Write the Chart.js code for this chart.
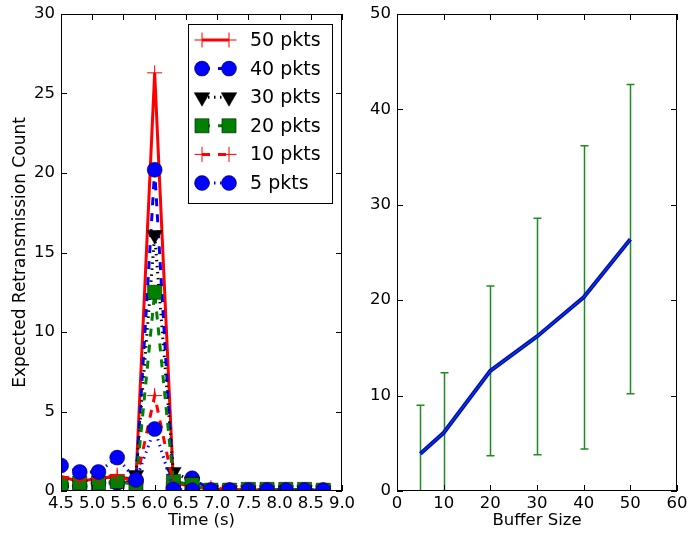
<!DOCTYPE html>
<html>
<head>
<meta charset="utf-8">
<script src="https://cdn.jsdelivr.net/npm/chart.js@4.4.1/dist/chart.umd.min.js"></script>
<style>
  html, body { margin: 0; padding: 0; background: #fff; }
  #wrap { position: relative; width: 688px; height: 533px; overflow: hidden; }
  canvas { position: absolute; top: 0; }
  #left { left: 0; z-index: 2; }
  #right { left: 355px; z-index: 1; }
</style>
</head>
<body>
<div id="wrap">
  <canvas id="left" width="365" height="533"></canvas>
  <canvas id="right" width="333" height="533"></canvas>
</div>
<script>
// left panel: retransmissions over time, one series per buffer size
const times = [4.5, 4.8, 5.1, 5.4, 5.7, 6.0, 6.3, 6.6, 6.9, 7.2, 7.5, 7.8, 8.1, 8.4, 8.7];
const pkts50 = [0.9, 0.6, 0.8, 0.9, 0.7, 26.3, 0.5, 0.3, 0.1, 0.1, 0.05, 0.05, 0.05, 0.05, 0.05];
const pkts40 = [0.3, 0.3, 0.5, 0.5, 0.6, 20.2, 0.2, 0.8, 0.05, 0.05, 0.05, 0.05, 0.05, 0.05, 0.05];
const pkts30 = [0.5, 0.4, 0.5, 0.6, 1.0, 16.1, 1.2, 0.6, 0.05, 0.05, 0.05, 0.05, 0.05, 0.05, 0.05];
const pkts20 = [0.4, 0.5, 0.5, 0.6, 0.4, 12.5, 0.6, 0.4, 0.05, 0.05, 0.1, 0.1, 0.1, 0.1, 0.05];
const pkts10 = [0.9, 0.7, 0.8, 1.0, 0.5, 6.0, 0.4, 0.2, 0.2, 0.1, 0.05, 0.05, 0.05, 0.05, 0.05];
const pkts5 = [1.6, 1.2, 1.2, 2.1, 0.7, 3.9, 0.1, 0.05, 0.05, 0.05, 0.05, 0.05, 0.05, 0.05, 0.05];

// right panel: mean count per buffer size with error bars
const bufferSizes = [5, 10, 20, 30, 40, 50];
const meanCount = [3.9, 6.1, 12.6, 16.2, 20.3, 26.4];
const errCount = [5.1, 6.3, 8.9, 12.4, 15.9, 16.2];

const FONT = "'DejaVu Sans', sans-serif";

const pts = ys => times.map((t, i) => ({ x: t, y: ys[i] }));

// black frame + inward ticks on all four sides (matplotlib classic look)
const frameTicks = {
  id: "frameTicks",
  afterDraw(chart) {
    const { ctx, chartArea: a, scales: { x, y } } = chart;
    ctx.save();
    ctx.strokeStyle = "#000";
    ctx.lineWidth = 1;
    ctx.strokeRect(a.left + 0.5, a.top + 0.5, a.right - a.left - 1, a.bottom - a.top - 1);
    ctx.beginPath();
    x.ticks.forEach(t => {
      const px = Math.round(x.getPixelForValue(t.value)) + 0.5;
      ctx.moveTo(px, a.bottom); ctx.lineTo(px, a.bottom - 6);
      ctx.moveTo(px, a.top); ctx.lineTo(px, a.top + 6);
    });
    y.ticks.forEach(t => {
      const py = Math.round(y.getPixelForValue(t.value)) + 0.5;
      ctx.moveTo(a.left, py); ctx.lineTo(a.left + 6, py);
      ctx.moveTo(a.right, py); ctx.lineTo(a.right - 6, py);
    });
    ctx.stroke();
    ctx.restore();
  }
};

// legend with a marker at each end of the line sample
const lineLegend = {
  id: "lineLegend",
  afterDraw(chart) {
    const { ctx, chartArea: a } = chart;
    const boxR = a.right - 10, boxL = boxR - 144, boxT = a.top + 10, boxB = boxT + 179;
    ctx.save();
    ctx.fillStyle = "#fff";
    ctx.fillRect(boxL, boxT, boxR - boxL, boxB - boxT);
    ctx.strokeStyle = "#000";
    ctx.lineWidth = 1;
    ctx.strokeRect(boxL + 0.5, boxT + 0.5, boxR - boxL, boxB - boxT);
    const sets = chart.data.datasets;
    sets.forEach((ds, i) => {
      const cy = boxT + 16 + i * 28.6;
      const x1 = boxL + 14, x2 = boxL + 41;
      ctx.strokeStyle = ds.borderColor;
      ctx.lineWidth = ds.borderWidth;
      ctx.setLineDash(ds.borderDash || []);
      ctx.beginPath();
      ctx.moveTo(x1, cy); ctx.lineTo(x2, cy);
      ctx.stroke();
      ctx.setLineDash([]);
      [x1, x2].forEach(px => {
        ctx.fillStyle = ds.pointBackgroundColor;
        ctx.strokeStyle = ds.pointBorderColor;
        ctx.lineWidth = ds.pointBorderWidth;
        Chart.helpers.drawPoint(ctx, {
          pointStyle: ds.pointStyle,
          radius: ds.pointRadius,
          rotation: ds.pointRotation || 0,
          borderWidth: ds.pointBorderWidth
        }, px, cy);
      });
      ctx.fillStyle = "#000";
      ctx.font = "19px " + FONT;
      ctx.textBaseline = "middle";
      ctx.fillText(ds.label, boxL + 62, cy + 1);
    });
    ctx.restore();
  }
};

const errorBars = {
  id: "errorBars",
  beforeDatasetsDraw(chart) {
    const { ctx, chartArea: a, scales: { x, y } } = chart;
    ctx.save();
    ctx.beginPath();
    ctx.rect(a.left, a.top, a.right - a.left, a.bottom - a.top);
    ctx.clip();
    ctx.strokeStyle = "#1e8c1e";
    ctx.lineWidth = 1.5;
    ctx.beginPath();
    bufferSizes.forEach((b, i) => {
      const px = Math.round(x.getPixelForValue(b)) + 0.5;
      const lo = y.getPixelForValue(meanCount[i] - errCount[i]);
      const hi = y.getPixelForValue(meanCount[i] + errCount[i]);
      ctx.moveTo(px, lo); ctx.lineTo(px, hi);
      ctx.moveTo(px - 4, lo); ctx.lineTo(px + 4, lo);
      ctx.moveTo(px - 4, hi); ctx.lineTo(px + 4, hi);
    });
    ctx.stroke();
    ctx.restore();
  }
};

function fixWidth(w) {
  return s => { s.width = w; s.paddingTop = 0; s.paddingBottom = 0; };
}
function fixHeight(h) {
  return s => { s.height = h; s.paddingLeft = 0; s.paddingRight = 0; };
}

const tickFont = { family: FONT, size: 16.5 };

function dset(label, ys, color, dash, style, radius, fill, edge, edgeW, order, rot) {
  return {
    label, data: pts(ys),
    borderColor: color, borderWidth: 3, borderDash: dash,
    pointStyle: style, pointRadius: radius, pointHoverRadius: radius,
    pointBackgroundColor: fill, pointBorderColor: edge, pointBorderWidth: edgeW,
    pointRotation: rot || 0,
    clip: 0, order
  };
}

new Chart(document.getElementById("left"), {
  type: "line",
  data: {
    datasets: [
      dset("50 pkts", pkts50, "#ff0000", [], "cross", 7.5, "#ff0000", "#ff0000", 1, 5),
      dset("40 pkts", pkts40, "#0000ff", [8, 8], "circle", 7.5, "#0000ff", "#000", 0.5, 4),
      dset("30 pkts", pkts30, "#000000", [1.5, 4.5], "triangle", 9, "#000000", "#000", 0.5, 3, 180),
      dset("20 pkts", pkts20, "#008000", [8, 8], "rect", 10, "#008000", "#000", 0.5, 2),
      dset("10 pkts", pkts10, "#ff0000", [8, 8], "cross", 7.5, "#ff0000", "#ff0000", 1, 1),
      dset("5 pkts", pkts5, "#0000ff", [1.5, 4.5], "circle", 7.5, "#0000ff", "#000", 0.5, 0)
    ]
  },
  options: {
    responsive: false,
    animation: false,
    layout: { padding: { top: 14, right: 23, left: 0, bottom: 0 } },
    plugins: { legend: { display: false }, tooltip: { enabled: false } },
    scales: {
      x: {
        type: "linear", min: 4.5, max: 9.0,
        ticks: { stepSize: 0.5, color: "#000", font: tickFont, padding: 3, maxRotation: 0,
          callback: v => v.toFixed(1) },
        grid: { display: false, drawTicks: false },
        border: { display: false },
        title: { display: true, text: "Time (s)", color: "#000", font: tickFont, padding: { top: 0, bottom: 2 } },
        afterFit: fixHeight(42)
      },
      y: {
        min: 0, max: 30,
        ticks: { stepSize: 5, color: "#000", font: tickFont, padding: 6 },
        grid: { display: false, drawTicks: false },
        border: { display: false },
        title: { display: true, text: "Expected Retransmission Count", color: "#000",
          font: { family: FONT, size: 17 }, padding: { top: 10, bottom: 0 } },
        afterFit: fixWidth(61)
      }
    }
  },
  plugins: [frameTicks, lineLegend]
});

new Chart(document.getElementById("right"), {
  type: "line",
  data: {
    datasets: [
      {
        label: "mean", data: bufferSizes.map((b, i) => ({ x: b, y: meanCount[i] })),
        borderColor: "#0000ff", borderWidth: 4, pointRadius: 0, order: 1
      },
      {
        label: "errorbar line", data: bufferSizes.map((b, i) => ({ x: b, y: meanCount[i] })),
        borderColor: "#008000", borderWidth: 1, pointRadius: 0, order: 0
      }
    ]
  },
  options: {
    responsive: false,
    animation: false,
    layout: { padding: { top: 14, right: 11, left: 0, bottom: 0 } },
    plugins: { legend: { display: false }, tooltip: { enabled: false } },
    scales: {
      x: {
        type: "linear", min: 0, max: 60,
        ticks: { stepSize: 10, color: "#000", font: tickFont, padding: 3, maxRotation: 0 },
        grid: { display: false, drawTicks: false },
        border: { display: false },
        title: { display: true, text: "Buffer Size", color: "#000", font: tickFont, padding: { top: 0, bottom: 2 } },
        afterFit: fixHeight(42)
      },
      y: {
        min: 0, max: 50,
        ticks: { stepSize: 10, color: "#000", font: tickFont, padding: 6 },
        grid: { display: false, drawTicks: false },
        border: { display: false },
        afterFit: fixWidth(42)
      }
    }
  },
  plugins: [errorBars, frameTicks]
});
</script>
</body>
</html>
